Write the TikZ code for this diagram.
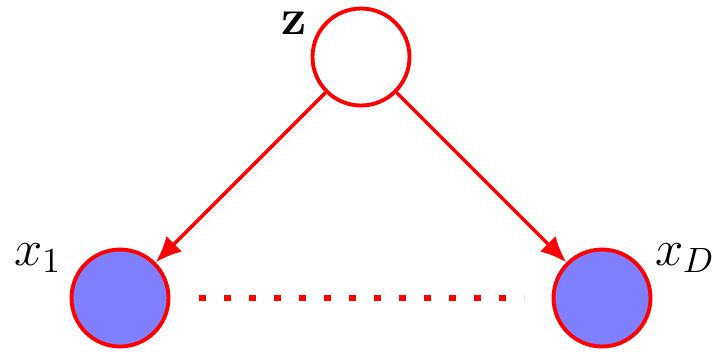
\documentclass[tikz,border=0pt]{standalone}
\usepackage{amsmath}
\usepackage{tikz}
\usetikzlibrary{arrows.meta, positioning}
\tikzset{%
   % random variable node: hidden (latent) or observed
   latent/.style={
      circle,
      draw=red,
      line width=1.1pt,
      fill=white,
      inner sep=0pt,
      minimum size=0.97cm
   },
   observed/.style={
      latent,
      fill=blue!50
   },
   edge/.style={
      -{Latex[length=2.6mm, width=2.2mm]},
      draw=red,
      line width=1pt
   },
   dots/.style={
      draw=red,
      line width=1.8pt,
      dash pattern=on 0.07cm off 0.18cm
   },
   lbl/.style={font=\Large, inner sep=0pt}
}

\begin{document}
\begin{tikzpicture}
   \useasboundingbox (0,0) rectangle (7.2,3.51);
   \node[latent] (z) at (3.61,2.94) {};
   \node[observed] (x1) at (1.20,0.53) {};
   \node[observed] (xD) at (6.02,0.53) {};
   \node[lbl] (zl) at (2.94,3.28) {$\mathbf{z}$};
   \node[lbl] (x1l) at (0.38,0.93) {$x_1$};
   \node[lbl] (xDl) at (6.85,0.93) {$x_D$};
   \draw[edge] (z) -- (x1);
   \draw[edge] (z) -- (xD);
   \coordinate (d0) at (1.985,0.53);
   \coordinate (d1) at (5.235,0.53);
   \draw[dots] (d0) -- (d1);
\end{tikzpicture}
\end{document}
